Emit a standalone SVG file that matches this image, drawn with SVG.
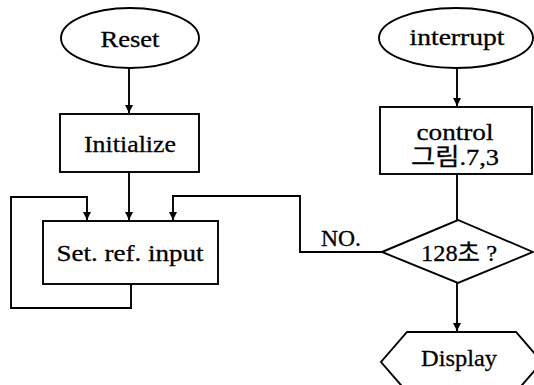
<svg xmlns="http://www.w3.org/2000/svg" width="534" height="385" viewBox="0 0 534 385">
<style>
.s{fill:#fff;stroke:#000;stroke-width:1.9}
.c{fill:none;stroke:#000;stroke-width:1.9}
.t{font-family:"Liberation Serif","Noto Sans CJK KR",serif;font-size:24px;fill:#000;text-anchor:middle;stroke:#000;stroke-width:0.3}
</style>
<defs>
<marker id="a" markerUnits="userSpaceOnUse" markerWidth="10" markerHeight="10" refX="9" refY="5" orient="auto" viewBox="0 0 10 10">
<path d="M1,1 L9,5 L1,9 Z" fill="#000"/>
</marker>
</defs>
<rect width="534" height="385" fill="#fff"/>
<g id="connectors">
<path class="c" d="M129,68 V113" marker-end="url(#a)"/>
<path class="c" d="M129,172 V220" marker-end="url(#a)"/>
<path class="c" d="M131,284 V308 H11 V197 H87 V220" marker-end="url(#a)"/>
<path class="c" d="M382,252 H300 V196 H173 V220" marker-end="url(#a)"/>
<path class="c" d="M457,68 V106" marker-end="url(#a)"/>
<path class="c" d="M457,174 V220"/>
<path class="c" d="M457,283 V331" marker-end="url(#a)"/>
<text class="t" x="341" y="246" textLength="40" lengthAdjust="spacingAndGlyphs">NO.</text>
</g>
<g id="reset">
<ellipse class="s" cx="130" cy="38" rx="69" ry="30"/>
<text class="t" x="130" y="47" textLength="59" lengthAdjust="spacingAndGlyphs">Reset</text>
</g>
<g id="initialize">
<rect class="s" x="60" y="114" width="139" height="58"/>
<text class="t" x="130" y="152" textLength="92" lengthAdjust="spacingAndGlyphs">Initialize</text>
</g>
<g id="setref">
<rect class="s" x="43" y="221" width="175" height="63"/>
<text class="t" x="130" y="261" textLength="147" lengthAdjust="spacingAndGlyphs">Set. ref. input</text>
</g>
<g id="interrupt">
<ellipse class="s" cx="456" cy="38" rx="77" ry="30"/>
<text class="t" x="457" y="45" textLength="95" lengthAdjust="spacingAndGlyphs">interrupt</text>
</g>
<g id="control">
<rect class="s" x="380" y="107" width="152" height="67"/>
<text class="t" x="455" y="140" font-size="20" textLength="77" lengthAdjust="spacingAndGlyphs">control</text>
<text class="t" x="455" y="165" font-size="18" textLength="88" lengthAdjust="spacingAndGlyphs">그림.7,3</text>
</g>
<g id="decision">
<polygon class="s" points="382,252 458,220 533,252 458,283"/>
<text class="t" x="459" y="261" textLength="76" lengthAdjust="spacingAndGlyphs">128초 ?</text>
</g>
<g id="display">
<polygon class="s" points="407,332 516,332 542,362 516,392 407,392 381,362"/>
<text class="t" x="459" y="366" textLength="76" lengthAdjust="spacingAndGlyphs">Display</text>
</g>
</svg>
